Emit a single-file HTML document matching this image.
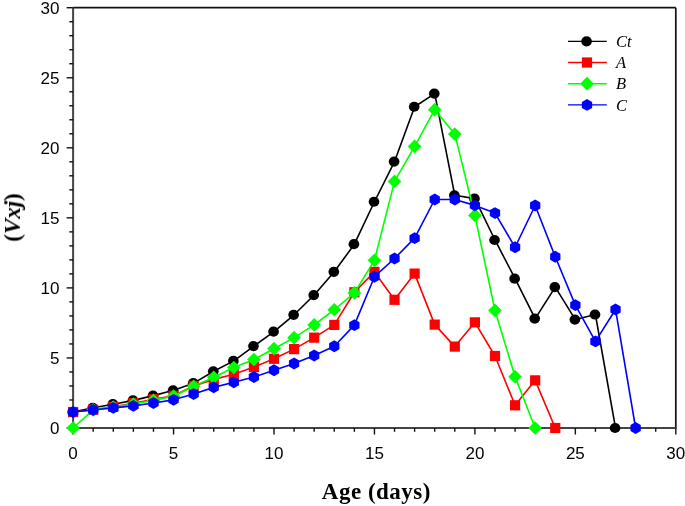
<!DOCTYPE html>
<html><head><meta charset="utf-8"><style>
html,body{margin:0;padding:0;background:#fff;}
body{width:685px;height:506px;overflow:hidden;font-family:"Liberation Sans", sans-serif;}
svg{display:block;}
</style></head><body>
<svg width="685" height="506" viewBox="0 0 685 506">
<rect width="685" height="506" fill="#fff"/>
<line x1="73.1" y1="7.7" x2="675.8" y2="7.7" stroke="#111" stroke-width="1.7"/>
<line x1="675.8" y1="7.7" x2="675.8" y2="428.0" stroke="#111" stroke-width="1.7"/>
<line x1="73.1" y1="6.9" x2="73.1" y2="428.0" stroke="#444" stroke-width="2"/>
<line x1="73.1" y1="428.0" x2="676.5999999999999" y2="428.0" stroke="#444" stroke-width="2"/>
<line x1="73.10" y1="428.0" x2="73.10" y2="434.5" stroke="#111" stroke-width="1.4"/>
<line x1="93.19" y1="428.0" x2="93.19" y2="431.8" stroke="#111" stroke-width="1.4"/>
<line x1="113.28" y1="428.0" x2="113.28" y2="431.8" stroke="#111" stroke-width="1.4"/>
<line x1="133.37" y1="428.0" x2="133.37" y2="431.8" stroke="#111" stroke-width="1.4"/>
<line x1="153.46" y1="428.0" x2="153.46" y2="431.8" stroke="#111" stroke-width="1.4"/>
<line x1="173.55" y1="428.0" x2="173.55" y2="434.5" stroke="#111" stroke-width="1.4"/>
<line x1="193.64" y1="428.0" x2="193.64" y2="431.8" stroke="#111" stroke-width="1.4"/>
<line x1="213.73" y1="428.0" x2="213.73" y2="431.8" stroke="#111" stroke-width="1.4"/>
<line x1="233.82" y1="428.0" x2="233.82" y2="431.8" stroke="#111" stroke-width="1.4"/>
<line x1="253.91" y1="428.0" x2="253.91" y2="431.8" stroke="#111" stroke-width="1.4"/>
<line x1="274.00" y1="428.0" x2="274.00" y2="434.5" stroke="#111" stroke-width="1.4"/>
<line x1="294.09" y1="428.0" x2="294.09" y2="431.8" stroke="#111" stroke-width="1.4"/>
<line x1="314.18" y1="428.0" x2="314.18" y2="431.8" stroke="#111" stroke-width="1.4"/>
<line x1="334.27" y1="428.0" x2="334.27" y2="431.8" stroke="#111" stroke-width="1.4"/>
<line x1="354.36" y1="428.0" x2="354.36" y2="431.8" stroke="#111" stroke-width="1.4"/>
<line x1="374.45" y1="428.0" x2="374.45" y2="434.5" stroke="#111" stroke-width="1.4"/>
<line x1="394.54" y1="428.0" x2="394.54" y2="431.8" stroke="#111" stroke-width="1.4"/>
<line x1="414.63" y1="428.0" x2="414.63" y2="431.8" stroke="#111" stroke-width="1.4"/>
<line x1="434.72" y1="428.0" x2="434.72" y2="431.8" stroke="#111" stroke-width="1.4"/>
<line x1="454.81" y1="428.0" x2="454.81" y2="431.8" stroke="#111" stroke-width="1.4"/>
<line x1="474.90" y1="428.0" x2="474.90" y2="434.5" stroke="#111" stroke-width="1.4"/>
<line x1="494.99" y1="428.0" x2="494.99" y2="431.8" stroke="#111" stroke-width="1.4"/>
<line x1="515.08" y1="428.0" x2="515.08" y2="431.8" stroke="#111" stroke-width="1.4"/>
<line x1="535.17" y1="428.0" x2="535.17" y2="431.8" stroke="#111" stroke-width="1.4"/>
<line x1="555.26" y1="428.0" x2="555.26" y2="431.8" stroke="#111" stroke-width="1.4"/>
<line x1="575.35" y1="428.0" x2="575.35" y2="434.5" stroke="#111" stroke-width="1.4"/>
<line x1="595.44" y1="428.0" x2="595.44" y2="431.8" stroke="#111" stroke-width="1.4"/>
<line x1="615.53" y1="428.0" x2="615.53" y2="431.8" stroke="#111" stroke-width="1.4"/>
<line x1="635.62" y1="428.0" x2="635.62" y2="431.8" stroke="#111" stroke-width="1.4"/>
<line x1="655.71" y1="428.0" x2="655.71" y2="431.8" stroke="#111" stroke-width="1.4"/>
<line x1="675.80" y1="428.0" x2="675.80" y2="434.5" stroke="#111" stroke-width="1.4"/>
<line x1="73.1" y1="428.00" x2="66.6" y2="428.00" stroke="#111" stroke-width="1.4"/>
<line x1="73.1" y1="413.99" x2="69.3" y2="413.99" stroke="#111" stroke-width="1.4"/>
<line x1="73.1" y1="399.98" x2="69.3" y2="399.98" stroke="#111" stroke-width="1.4"/>
<line x1="73.1" y1="385.97" x2="69.3" y2="385.97" stroke="#111" stroke-width="1.4"/>
<line x1="73.1" y1="371.96" x2="69.3" y2="371.96" stroke="#111" stroke-width="1.4"/>
<line x1="73.1" y1="357.95" x2="66.6" y2="357.95" stroke="#111" stroke-width="1.4"/>
<line x1="73.1" y1="343.94" x2="69.3" y2="343.94" stroke="#111" stroke-width="1.4"/>
<line x1="73.1" y1="329.93" x2="69.3" y2="329.93" stroke="#111" stroke-width="1.4"/>
<line x1="73.1" y1="315.92" x2="69.3" y2="315.92" stroke="#111" stroke-width="1.4"/>
<line x1="73.1" y1="301.91" x2="69.3" y2="301.91" stroke="#111" stroke-width="1.4"/>
<line x1="73.1" y1="287.90" x2="66.6" y2="287.90" stroke="#111" stroke-width="1.4"/>
<line x1="73.1" y1="273.89" x2="69.3" y2="273.89" stroke="#111" stroke-width="1.4"/>
<line x1="73.1" y1="259.88" x2="69.3" y2="259.88" stroke="#111" stroke-width="1.4"/>
<line x1="73.1" y1="245.87" x2="69.3" y2="245.87" stroke="#111" stroke-width="1.4"/>
<line x1="73.1" y1="231.86" x2="69.3" y2="231.86" stroke="#111" stroke-width="1.4"/>
<line x1="73.1" y1="217.85" x2="66.6" y2="217.85" stroke="#111" stroke-width="1.4"/>
<line x1="73.1" y1="203.84" x2="69.3" y2="203.84" stroke="#111" stroke-width="1.4"/>
<line x1="73.1" y1="189.83" x2="69.3" y2="189.83" stroke="#111" stroke-width="1.4"/>
<line x1="73.1" y1="175.82" x2="69.3" y2="175.82" stroke="#111" stroke-width="1.4"/>
<line x1="73.1" y1="161.81" x2="69.3" y2="161.81" stroke="#111" stroke-width="1.4"/>
<line x1="73.1" y1="147.80" x2="66.6" y2="147.80" stroke="#111" stroke-width="1.4"/>
<line x1="73.1" y1="133.79" x2="69.3" y2="133.79" stroke="#111" stroke-width="1.4"/>
<line x1="73.1" y1="119.78" x2="69.3" y2="119.78" stroke="#111" stroke-width="1.4"/>
<line x1="73.1" y1="105.77" x2="69.3" y2="105.77" stroke="#111" stroke-width="1.4"/>
<line x1="73.1" y1="91.76" x2="69.3" y2="91.76" stroke="#111" stroke-width="1.4"/>
<line x1="73.1" y1="77.75" x2="66.6" y2="77.75" stroke="#111" stroke-width="1.4"/>
<line x1="73.1" y1="63.74" x2="69.3" y2="63.74" stroke="#111" stroke-width="1.4"/>
<line x1="73.1" y1="49.73" x2="69.3" y2="49.73" stroke="#111" stroke-width="1.4"/>
<line x1="73.1" y1="35.72" x2="69.3" y2="35.72" stroke="#111" stroke-width="1.4"/>
<line x1="73.1" y1="21.71" x2="69.3" y2="21.71" stroke="#111" stroke-width="1.4"/>
<line x1="73.1" y1="7.70" x2="66.6" y2="7.70" stroke="#111" stroke-width="1.4"/>
<polyline points="73.10,412.03 93.19,407.83 113.28,404.18 133.37,400.40 153.46,395.64 173.55,390.31 193.64,383.17 213.73,371.26 233.82,360.89 253.91,346.04 274.00,331.61 294.09,314.80 314.18,295.05 334.27,271.79 354.36,244.19 374.45,201.74 394.54,161.53 414.63,106.75 434.72,93.58 454.81,195.29 474.90,198.66 494.99,239.99 515.08,278.65 535.17,318.58 555.26,287.06 575.35,319.56 595.44,314.52 615.53,428.00" fill="none" stroke="#000000" stroke-width="1.6" stroke-linejoin="round"/>
<ellipse cx="72.65" cy="412.03" rx="5.35" ry="5.1" fill="#000000"/>
<ellipse cx="92.74" cy="407.83" rx="5.35" ry="5.1" fill="#000000"/>
<ellipse cx="112.83" cy="404.18" rx="5.35" ry="5.1" fill="#000000"/>
<ellipse cx="132.92" cy="400.40" rx="5.35" ry="5.1" fill="#000000"/>
<ellipse cx="153.01" cy="395.64" rx="5.35" ry="5.1" fill="#000000"/>
<ellipse cx="173.10" cy="390.31" rx="5.35" ry="5.1" fill="#000000"/>
<ellipse cx="193.19" cy="383.17" rx="5.35" ry="5.1" fill="#000000"/>
<ellipse cx="213.28" cy="371.26" rx="5.35" ry="5.1" fill="#000000"/>
<ellipse cx="233.37" cy="360.89" rx="5.35" ry="5.1" fill="#000000"/>
<ellipse cx="253.46" cy="346.04" rx="5.35" ry="5.1" fill="#000000"/>
<ellipse cx="273.55" cy="331.61" rx="5.35" ry="5.1" fill="#000000"/>
<ellipse cx="293.64" cy="314.80" rx="5.35" ry="5.1" fill="#000000"/>
<ellipse cx="313.73" cy="295.05" rx="5.35" ry="5.1" fill="#000000"/>
<ellipse cx="333.82" cy="271.79" rx="5.35" ry="5.1" fill="#000000"/>
<ellipse cx="353.91" cy="244.19" rx="5.35" ry="5.1" fill="#000000"/>
<ellipse cx="374.00" cy="201.74" rx="5.35" ry="5.1" fill="#000000"/>
<ellipse cx="394.09" cy="161.53" rx="5.35" ry="5.1" fill="#000000"/>
<ellipse cx="414.18" cy="106.75" rx="5.35" ry="5.1" fill="#000000"/>
<ellipse cx="434.27" cy="93.58" rx="5.35" ry="5.1" fill="#000000"/>
<ellipse cx="454.36" cy="195.29" rx="5.35" ry="5.1" fill="#000000"/>
<ellipse cx="474.45" cy="198.66" rx="5.35" ry="5.1" fill="#000000"/>
<ellipse cx="494.54" cy="239.99" rx="5.35" ry="5.1" fill="#000000"/>
<ellipse cx="514.63" cy="278.65" rx="5.35" ry="5.1" fill="#000000"/>
<ellipse cx="534.72" cy="318.58" rx="5.35" ry="5.1" fill="#000000"/>
<ellipse cx="554.81" cy="287.06" rx="5.35" ry="5.1" fill="#000000"/>
<ellipse cx="574.90" cy="319.56" rx="5.35" ry="5.1" fill="#000000"/>
<ellipse cx="594.99" cy="314.52" rx="5.35" ry="5.1" fill="#000000"/>
<ellipse cx="615.08" cy="428.00" rx="5.35" ry="5.1" fill="#000000"/>
<polyline points="73.10,412.03 93.19,409.79 113.28,406.84 133.37,403.20 153.46,399.28 173.55,395.78 193.64,385.97 213.73,379.39 233.82,374.20 253.91,367.06 274.00,358.79 294.09,349.12 314.18,337.64 334.27,324.89 354.36,292.24 374.45,271.93 394.54,299.81 414.63,273.61 434.72,324.61 454.81,346.60 474.90,322.36 494.99,355.99 515.08,405.30 535.17,380.37 555.26,428.00" fill="none" stroke="#ff0000" stroke-width="1.6" stroke-linejoin="round"/>
<rect x="68.00" y="406.93" width="10.2" height="10.2" fill="#ff0000"/>
<rect x="88.09" y="404.69" width="10.2" height="10.2" fill="#ff0000"/>
<rect x="108.18" y="401.74" width="10.2" height="10.2" fill="#ff0000"/>
<rect x="128.27" y="398.10" width="10.2" height="10.2" fill="#ff0000"/>
<rect x="148.36" y="394.18" width="10.2" height="10.2" fill="#ff0000"/>
<rect x="168.45" y="390.68" width="10.2" height="10.2" fill="#ff0000"/>
<rect x="188.54" y="380.87" width="10.2" height="10.2" fill="#ff0000"/>
<rect x="208.63" y="374.29" width="10.2" height="10.2" fill="#ff0000"/>
<rect x="228.72" y="369.10" width="10.2" height="10.2" fill="#ff0000"/>
<rect x="248.81" y="361.96" width="10.2" height="10.2" fill="#ff0000"/>
<rect x="268.90" y="353.69" width="10.2" height="10.2" fill="#ff0000"/>
<rect x="288.99" y="344.02" width="10.2" height="10.2" fill="#ff0000"/>
<rect x="309.08" y="332.54" width="10.2" height="10.2" fill="#ff0000"/>
<rect x="329.17" y="319.79" width="10.2" height="10.2" fill="#ff0000"/>
<rect x="349.26" y="287.14" width="10.2" height="10.2" fill="#ff0000"/>
<rect x="369.35" y="266.83" width="10.2" height="10.2" fill="#ff0000"/>
<rect x="389.44" y="294.71" width="10.2" height="10.2" fill="#ff0000"/>
<rect x="409.53" y="268.51" width="10.2" height="10.2" fill="#ff0000"/>
<rect x="429.62" y="319.51" width="10.2" height="10.2" fill="#ff0000"/>
<rect x="449.71" y="341.50" width="10.2" height="10.2" fill="#ff0000"/>
<rect x="469.80" y="317.26" width="10.2" height="10.2" fill="#ff0000"/>
<rect x="489.89" y="350.89" width="10.2" height="10.2" fill="#ff0000"/>
<rect x="509.98" y="400.20" width="10.2" height="10.2" fill="#ff0000"/>
<rect x="530.07" y="375.27" width="10.2" height="10.2" fill="#ff0000"/>
<rect x="550.16" y="422.90" width="10.2" height="10.2" fill="#ff0000"/>
<polyline points="73.10,428.00 93.19,409.79 113.28,406.99 133.37,404.04 153.46,400.40 173.55,396.20 193.64,386.25 213.73,377.28 233.82,367.48 253.91,359.49 274.00,348.70 294.09,337.64 314.18,324.89 334.27,309.76 354.36,292.94 374.45,260.30 394.54,181.42 414.63,146.40 434.72,109.69 454.81,134.07 474.90,215.47 494.99,310.46 515.08,376.72 535.17,428.00" fill="none" stroke="#00ff00" stroke-width="1.6" stroke-linejoin="round"/>
<polygon points="73.10,421.15 79.95,428.00 73.10,434.85 66.25,428.00" fill="#00ff00"/>
<polygon points="93.19,402.94 100.04,409.79 93.19,416.64 86.34,409.79" fill="#00ff00"/>
<polygon points="113.28,400.13 120.13,406.99 113.28,413.84 106.43,406.99" fill="#00ff00"/>
<polygon points="133.37,397.19 140.22,404.04 133.37,410.89 126.52,404.04" fill="#00ff00"/>
<polygon points="153.46,393.55 160.31,400.40 153.46,407.25 146.61,400.40" fill="#00ff00"/>
<polygon points="173.55,389.35 180.40,396.20 173.55,403.05 166.70,396.20" fill="#00ff00"/>
<polygon points="193.64,379.40 200.49,386.25 193.64,393.10 186.79,386.25" fill="#00ff00"/>
<polygon points="213.73,370.43 220.58,377.28 213.73,384.13 206.88,377.28" fill="#00ff00"/>
<polygon points="233.82,360.63 240.67,367.48 233.82,374.33 226.97,367.48" fill="#00ff00"/>
<polygon points="253.91,352.64 260.76,359.49 253.91,366.34 247.06,359.49" fill="#00ff00"/>
<polygon points="274.00,341.85 280.85,348.70 274.00,355.55 267.15,348.70" fill="#00ff00"/>
<polygon points="294.09,330.79 300.94,337.64 294.09,344.49 287.24,337.64" fill="#00ff00"/>
<polygon points="314.18,318.04 321.03,324.89 314.18,331.74 307.33,324.89" fill="#00ff00"/>
<polygon points="334.27,302.91 341.12,309.76 334.27,316.61 327.42,309.76" fill="#00ff00"/>
<polygon points="354.36,286.09 361.21,292.94 354.36,299.79 347.51,292.94" fill="#00ff00"/>
<polygon points="374.45,253.45 381.30,260.30 374.45,267.15 367.60,260.30" fill="#00ff00"/>
<polygon points="394.54,174.57 401.39,181.42 394.54,188.27 387.69,181.42" fill="#00ff00"/>
<polygon points="414.63,139.55 421.48,146.40 414.63,153.25 407.78,146.40" fill="#00ff00"/>
<polygon points="434.72,102.84 441.57,109.69 434.72,116.54 427.87,109.69" fill="#00ff00"/>
<polygon points="454.81,127.22 461.66,134.07 454.81,140.92 447.96,134.07" fill="#00ff00"/>
<polygon points="474.90,208.62 481.75,215.47 474.90,222.32 468.05,215.47" fill="#00ff00"/>
<polygon points="494.99,303.61 501.84,310.46 494.99,317.31 488.14,310.46" fill="#00ff00"/>
<polygon points="515.08,369.87 521.93,376.72 515.08,383.57 508.23,376.72" fill="#00ff00"/>
<polygon points="535.17,421.15 542.02,428.00 535.17,434.85 528.32,428.00" fill="#00ff00"/>
<polyline points="73.10,412.03 93.19,410.07 113.28,407.83 133.37,405.86 153.46,403.06 173.55,399.84 193.64,393.96 213.73,387.37 233.82,382.33 253.91,377.00 274.00,370.28 294.09,363.55 314.18,355.43 334.27,346.32 354.36,325.17 374.45,276.69 394.54,258.48 414.63,238.16 434.72,199.50 454.81,199.50 474.90,205.38 494.99,213.09 515.08,247.27 535.17,205.52 555.26,256.80 575.35,305.13 595.44,341.42 615.53,309.48 635.62,428.00" fill="none" stroke="#0000ff" stroke-width="1.6" stroke-linejoin="round"/>
<polygon points="73.10,406.08 78.25,409.05 78.25,415.00 73.10,417.98 67.95,415.00 67.95,409.05" fill="#0000ff"/>
<polygon points="93.19,404.12 98.34,407.09 98.34,413.04 93.19,416.02 88.04,413.04 88.04,407.09" fill="#0000ff"/>
<polygon points="113.28,401.88 118.43,404.85 118.43,410.80 113.28,413.78 108.13,410.80 108.13,404.85" fill="#0000ff"/>
<polygon points="133.37,399.91 138.52,402.89 138.52,408.84 133.37,411.81 128.22,408.84 128.22,402.89" fill="#0000ff"/>
<polygon points="153.46,397.11 158.61,400.09 158.61,406.04 153.46,409.01 148.31,406.04 148.31,400.09" fill="#0000ff"/>
<polygon points="173.55,393.89 178.70,396.86 178.70,402.81 173.55,405.79 168.40,402.81 168.40,396.86" fill="#0000ff"/>
<polygon points="193.64,388.01 198.79,390.98 198.79,396.93 193.64,399.91 188.49,396.93 188.49,390.98" fill="#0000ff"/>
<polygon points="213.73,381.42 218.88,384.40 218.88,390.35 213.73,393.32 208.58,390.35 208.58,384.40" fill="#0000ff"/>
<polygon points="233.82,376.38 238.97,379.35 238.97,385.30 233.82,388.28 228.67,385.30 228.67,379.35" fill="#0000ff"/>
<polygon points="253.91,371.05 259.06,374.03 259.06,379.98 253.91,382.95 248.76,379.98 248.76,374.03" fill="#0000ff"/>
<polygon points="274.00,364.33 279.15,367.30 279.15,373.25 274.00,376.23 268.85,373.25 268.85,367.30" fill="#0000ff"/>
<polygon points="294.09,357.60 299.24,360.58 299.24,366.53 294.09,369.50 288.94,366.53 288.94,360.58" fill="#0000ff"/>
<polygon points="314.18,349.48 319.33,352.45 319.33,358.40 314.18,361.38 309.03,358.40 309.03,352.45" fill="#0000ff"/>
<polygon points="334.27,340.37 339.42,343.35 339.42,349.30 334.27,352.27 329.12,349.30 329.12,343.35" fill="#0000ff"/>
<polygon points="354.36,319.22 359.51,322.19 359.51,328.14 354.36,331.12 349.21,328.14 349.21,322.19" fill="#0000ff"/>
<polygon points="374.45,270.74 379.60,273.72 379.60,279.67 374.45,282.64 369.30,279.67 369.30,273.72" fill="#0000ff"/>
<polygon points="394.54,252.53 399.69,255.50 399.69,261.45 394.54,264.43 389.39,261.45 389.39,255.50" fill="#0000ff"/>
<polygon points="414.63,232.21 419.78,235.19 419.78,241.14 414.63,244.11 409.48,241.14 409.48,235.19" fill="#0000ff"/>
<polygon points="434.72,193.55 439.87,196.52 439.87,202.47 434.72,205.45 429.57,202.47 429.57,196.52" fill="#0000ff"/>
<polygon points="454.81,193.55 459.96,196.52 459.96,202.47 454.81,205.45 449.66,202.47 449.66,196.52" fill="#0000ff"/>
<polygon points="474.90,199.43 480.05,202.41 480.05,208.36 474.90,211.33 469.75,208.36 469.75,202.41" fill="#0000ff"/>
<polygon points="494.99,207.14 500.14,210.11 500.14,216.06 494.99,219.04 489.84,216.06 489.84,210.11" fill="#0000ff"/>
<polygon points="515.08,241.32 520.23,244.30 520.23,250.25 515.08,253.22 509.93,250.25 509.93,244.30" fill="#0000ff"/>
<polygon points="535.17,199.57 540.32,202.55 540.32,208.50 535.17,211.47 530.02,208.50 530.02,202.55" fill="#0000ff"/>
<polygon points="555.26,250.85 560.41,253.82 560.41,259.77 555.26,262.75 550.11,259.77 550.11,253.82" fill="#0000ff"/>
<polygon points="575.35,299.18 580.50,302.16 580.50,308.11 575.35,311.08 570.20,308.11 570.20,302.16" fill="#0000ff"/>
<polygon points="595.44,335.47 600.59,338.44 600.59,344.39 595.44,347.37 590.29,344.39 590.29,338.44" fill="#0000ff"/>
<polygon points="615.53,303.53 620.68,306.50 620.68,312.45 615.53,315.43 610.38,312.45 610.38,306.50" fill="#0000ff"/>
<polygon points="635.62,422.05 640.77,425.02 640.77,430.98 635.62,433.95 630.47,430.98 630.47,425.02" fill="#0000ff"/>
<line x1="568.0" y1="41.3" x2="606.8" y2="41.3" stroke="#000000" stroke-width="1.35"/>
<ellipse cx="586.55" cy="41.30" rx="5.35" ry="5.1" fill="#000000"/>
<line x1="568.0" y1="62.5" x2="606.8" y2="62.5" stroke="#ff0000" stroke-width="1.35"/>
<rect x="581.90" y="57.40" width="10.2" height="10.2" fill="#ff0000"/>
<line x1="568.0" y1="83.7" x2="606.8" y2="83.7" stroke="#00ff00" stroke-width="1.35"/>
<polygon points="587.00,76.85 593.85,83.70 587.00,90.55 580.15,83.70" fill="#00ff00"/>
<line x1="568.0" y1="104.9" x2="606.8" y2="104.9" stroke="#0000ff" stroke-width="1.35"/>
<polygon points="587.00,98.95 592.15,101.93 592.15,107.88 587.00,110.85 581.85,107.88 581.85,101.93" fill="#0000ff"/>
<g style="filter:grayscale(1)">
<text x="73.10" y="459" font-family="Liberation Sans, sans-serif" font-size="17" text-anchor="middle">0</text>
<text x="173.55" y="459" font-family="Liberation Sans, sans-serif" font-size="17" text-anchor="middle">5</text>
<text x="274.00" y="459" font-family="Liberation Sans, sans-serif" font-size="17" text-anchor="middle">10</text>
<text x="374.45" y="459" font-family="Liberation Sans, sans-serif" font-size="17" text-anchor="middle">15</text>
<text x="474.90" y="459" font-family="Liberation Sans, sans-serif" font-size="17" text-anchor="middle">20</text>
<text x="575.35" y="459" font-family="Liberation Sans, sans-serif" font-size="17" text-anchor="middle">25</text>
<text x="675.80" y="459" font-family="Liberation Sans, sans-serif" font-size="17" text-anchor="middle">30</text>
<text x="59.5" y="434.20" font-family="Liberation Sans, sans-serif" font-size="17" text-anchor="end">0</text>
<text x="59.5" y="364.15" font-family="Liberation Sans, sans-serif" font-size="17" text-anchor="end">5</text>
<text x="59.5" y="294.10" font-family="Liberation Sans, sans-serif" font-size="17" text-anchor="end">10</text>
<text x="59.5" y="224.05" font-family="Liberation Sans, sans-serif" font-size="17" text-anchor="end">15</text>
<text x="59.5" y="154.00" font-family="Liberation Sans, sans-serif" font-size="17" text-anchor="end">20</text>
<text x="59.5" y="83.95" font-family="Liberation Sans, sans-serif" font-size="17" text-anchor="end">25</text>
<text x="59.5" y="13.90" font-family="Liberation Sans, sans-serif" font-size="17" text-anchor="end">30</text>
<text x="376.4" y="498.6" font-family="Liberation Serif, serif" font-weight="bold" font-size="23" letter-spacing="0.5" text-anchor="middle">Age (days)</text>
<text transform="translate(20,217.5) rotate(-90)" font-family="Liberation Serif, serif" font-weight="bold" font-size="23" text-anchor="middle">(<tspan font-style="italic">Vxj</tspan>)</text>
<text x="616" y="47.00" font-family="Liberation Serif, serif" font-style="italic" font-size="16.5">Ct</text>
<text x="616" y="68.20" font-family="Liberation Serif, serif" font-style="italic" font-size="16.5">A</text>
<text x="616" y="89.40" font-family="Liberation Serif, serif" font-style="italic" font-size="16.5">B</text>
<text x="616" y="110.60" font-family="Liberation Serif, serif" font-style="italic" font-size="16.5">C</text>
</g>
</svg>
</body></html>
